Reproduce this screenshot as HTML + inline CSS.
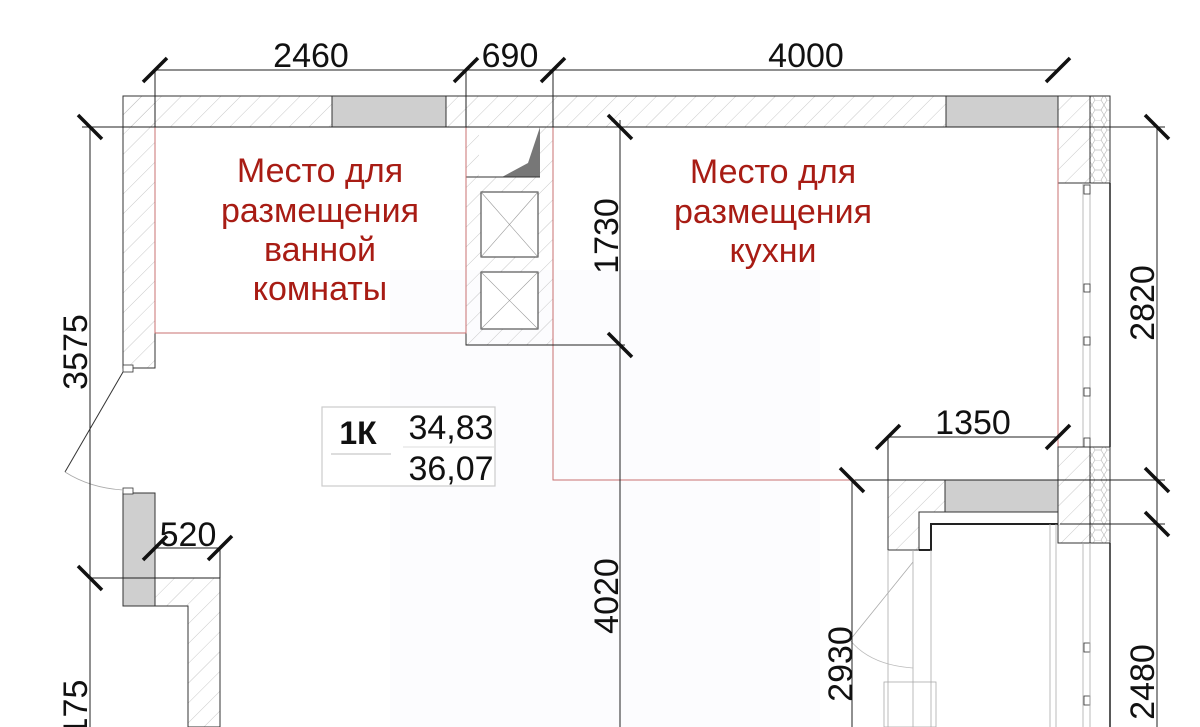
<!DOCTYPE html>
<html><head><meta charset="utf-8"><style>
html,body{margin:0;padding:0;background:#fff;width:1200px;height:727px;overflow:hidden}
text{font-family:"Liberation Sans",sans-serif}
</style></head><body>
<svg width="1200" height="727" viewBox="0 0 1200 727" xmlns="http://www.w3.org/2000/svg">
<defs>
<pattern id="h" width="14" height="14" patternUnits="userSpaceOnUse" patternTransform="rotate(45)">
<line x1="0" y1="0" x2="0" y2="14" stroke="#bbb" stroke-width="0.8"/></pattern>
<pattern id="hc" width="12" height="20" patternUnits="userSpaceOnUse">
<path d="M3 0 L9 0 L12 5 L9 10 L3 10 L0 5 Z M9 10 L12 15 L9 20 M3 10 L0 15 L3 20" fill="none" stroke="#bbb" stroke-width="0.7"/></pattern>
</defs>
<rect x="390" y="270" width="430" height="457" fill="#fcfcfe"/>
<rect x="123" y="96" width="935" height="31" fill="url(#h)" stroke="#333" stroke-width="1"/>
<rect x="332" y="96" width="114" height="31" fill="#cfcfcf" stroke="#333"/>
<rect x="946" y="96" width="112" height="31" fill="#cfcfcf" stroke="#333"/>
<rect x="1058" y="96" width="32" height="87" fill="url(#h)" stroke="#333"/>
<rect x="1090" y="96" width="20" height="87" fill="url(#hc)" stroke="#333"/>
<rect x="123" y="96" width="32" height="272" fill="url(#h)" stroke="#333"/>
<rect x="123" y="365" width="10" height="7" fill="#fff" stroke="#333" stroke-width="0.8"/>
<rect x="123" y="493" width="32" height="113" fill="#cfcfcf" stroke="#333"/>
<rect x="123" y="488" width="10" height="6" fill="#fff" stroke="#333" stroke-width="0.8"/>
<path d="M155 578 L220 578 L220 727 L188 727 L188 606 L155 606 Z" fill="url(#h)" stroke="#333"/>
<line x1="123" y1="372" x2="65" y2="472" stroke="#333" stroke-width="1"/>
<path d="M65 472 Q90 488 123 490" fill="none" stroke="#aaa" stroke-width="0.8"/>
<rect x="466" y="127" width="87" height="218" fill="url(#h)" stroke="#333"/>
<rect x="479" y="127" width="61" height="50" fill="#fff"/>
<path d="M502 177 L528 163 L540 127 L540 177 Z" fill="#777"/>
<line x1="466" y1="177" x2="540" y2="177" stroke="#333"/>
<g stroke="#333" fill="#fff"><rect x="481" y="192" width="57" height="65"/><rect x="481" y="272" width="57" height="57"/></g>
<g stroke="#999" stroke-width="0.6"><line x1="481" y1="192" x2="538" y2="257"/><line x1="538" y1="192" x2="481" y2="257"/><line x1="481" y1="272" x2="538" y2="329"/><line x1="538" y1="272" x2="481" y2="329"/></g>
<rect x="155" y="127" width="311" height="206" fill="none" stroke="#c87070" stroke-width="1"/>
<path d="M553 127 L1058 127 L1058 183 M553 127 L553 480 L890 480" fill="none" stroke="#c87070"/>
<line x1="1058" y1="183" x2="1058" y2="447" stroke="#c87070"/>
<g stroke="#aaa" stroke-width="0.8"><line x1="1083" y1="183" x2="1083" y2="447"/><line x1="1090" y1="183" x2="1090" y2="447"/></g>
<line x1="1110" y1="183" x2="1110" y2="447" stroke="#222" stroke-width="1.5"/>
<g fill="#fff" stroke="#333" stroke-width="0.8"><rect x="1084" y="185" width="6" height="9"/><rect x="1084" y="284" width="6" height="8"/><rect x="1084" y="337" width="6" height="8"/><rect x="1084" y="388" width="6" height="8"/><rect x="1084" y="438" width="6" height="9"/><rect x="1084" y="643" width="6" height="9"/><rect x="1084" y="696" width="6" height="9"/></g>
<path d="M888 480 L1058 480 L1058 512 L919 512 L919 550 L888 550 Z" fill="url(#h)" stroke="#333"/>
<rect x="945" y="480" width="113" height="32" fill="#cfcfcf" stroke="#333"/>
<path d="M919 550 L931 550 L931 524 L1058 524" fill="none" stroke="#222" stroke-width="2"/>
<rect x="1058" y="447" width="32" height="96" fill="url(#h)" stroke="#333"/>
<rect x="1090" y="447" width="20" height="96" fill="url(#hc)" stroke="#333"/>
<line x1="1110" y1="543" x2="1110" y2="727" stroke="#222" stroke-width="1.5"/>
<g stroke="#aaa" stroke-width="0.8"><line x1="1083" y1="543" x2="1083" y2="727"/><line x1="1090" y1="543" x2="1090" y2="727"/><line x1="1050" y1="524" x2="1050" y2="727"/><line x1="1056" y1="524" x2="1056" y2="727"/>
<line x1="888" y1="550" x2="888" y2="727"/><line x1="913" y1="550" x2="913" y2="727"/><line x1="931" y1="550" x2="931" y2="727"/>
<line x1="913" y1="562" x2="850" y2="640"/><rect x="884" y="682" width="52" height="45" fill="none"/></g>
<path d="M850 640 Q870 665 913 668" fill="none" stroke="#bbb" stroke-width="0.8"/>
<g stroke="#222" stroke-width="1" fill="none">
<line x1="155" y1="70" x2="1058" y2="70"/>
<line x1="155" y1="70" x2="155" y2="127"/><line x1="466" y1="70" x2="466" y2="127"/><line x1="553" y1="70" x2="553" y2="127"/>
<line x1="90" y1="127" x2="90" y2="727"/><line x1="82" y1="127" x2="1165" y2="127"/>
<line x1="90" y1="578" x2="220" y2="578"/>
<line x1="155" y1="548" x2="220" y2="548"/><line x1="220" y1="548" x2="220" y2="578"/>
<line x1="620" y1="120" x2="620" y2="727"/><line x1="466" y1="345" x2="625" y2="345"/>
<line x1="1157" y1="127" x2="1157" y2="727"/>
<line x1="855" y1="480" x2="1165" y2="480"/><line x1="1060" y1="524" x2="1165" y2="524"/>
<line x1="852" y1="480" x2="852" y2="727"/>
<line x1="888" y1="437" x2="1058" y2="437"/><line x1="888" y1="437" x2="888" y2="480"/>
</g>
<g stroke="#111" stroke-width="3.5" stroke-linecap="butt">
<line x1="143" y1="82" x2="167" y2="58"/><line x1="454" y1="82" x2="478" y2="58"/><line x1="541" y1="82" x2="565" y2="58"/><line x1="1046" y1="82" x2="1070" y2="58"/>
<line x1="78" y1="115" x2="102" y2="139"/><line x1="78" y1="566" x2="102" y2="590"/>
<line x1="143" y1="560" x2="167" y2="536"/><line x1="208" y1="560" x2="232" y2="536"/>
<line x1="608" y1="115" x2="632" y2="139"/><line x1="608" y1="333" x2="632" y2="357"/>
<line x1="1145" y1="115" x2="1169" y2="139"/><line x1="1145" y1="468" x2="1169" y2="492"/><line x1="1145" y1="512" x2="1169" y2="536"/>
<line x1="840" y1="468" x2="864" y2="492"/>
<line x1="876" y1="449" x2="900" y2="425"/><line x1="1046" y1="449" x2="1070" y2="425"/>
</g>
<g font-size="34" fill="#111" text-anchor="middle">
<text x="311" y="67">2460</text><text x="510" y="67">690</text><text x="806" y="67">4000</text>
<text x="973" y="434">1350</text><text x="188" y="546">520</text>
<text transform="translate(87,352) rotate(-90)">3575</text>
<text transform="translate(87,708) rotate(-90)">175</text>
<text transform="translate(618,236) rotate(-90)">1730</text>
<text transform="translate(618,596) rotate(-90)">4020</text>
<text transform="translate(852,664) rotate(-90)">2930</text>
<text transform="translate(1154,303) rotate(-90)">2820</text>
<text transform="translate(1154,682) rotate(-90)">2480</text>
</g>
<g font-size="34" fill="#a81c14" text-anchor="middle">
<text x="320" y="182">Место для</text><text x="320" y="222">размещения</text><text x="320" y="261">ванной</text><text x="320" y="300">комнаты</text>
<text x="773" y="183">Место для</text><text x="773" y="223">размещения</text><text x="773" y="262">кухни</text>
</g>
<rect x="322" y="407" width="173" height="79" fill="#fff" stroke="#ccc" stroke-width="1.2"/>
<line x1="331" y1="454" x2="391" y2="454" stroke="#bbb"/><line x1="403" y1="447" x2="495" y2="447" stroke="#ddd"/>
<text x="358" y="444" font-size="32" font-weight="bold" text-anchor="middle" fill="#111">1К</text>
<text x="451" y="439" font-size="34" text-anchor="middle" fill="#111">34,83</text>
<text x="451" y="480" font-size="34" text-anchor="middle" fill="#111">36,07</text>
</svg>
</body></html>
